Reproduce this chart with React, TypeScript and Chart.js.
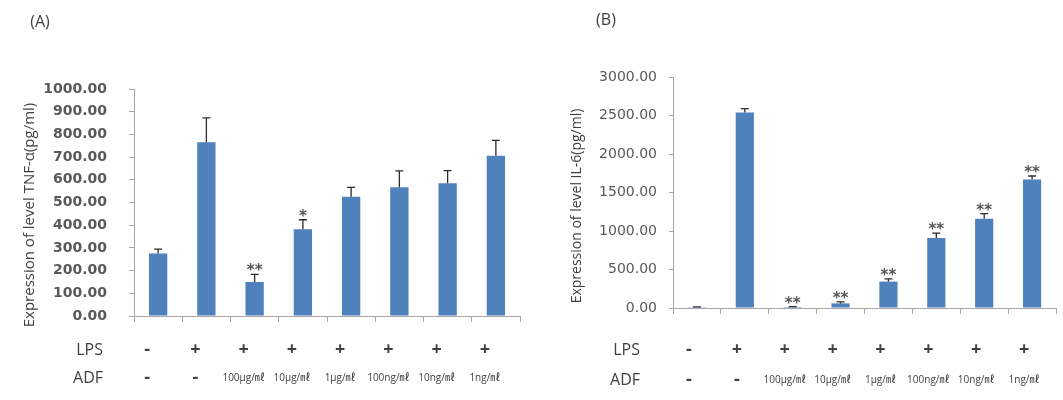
import React, { useEffect, useRef } from 'react';
import { Chart, registerables } from 'chart.js';

Chart.register(...registerables);

// Treatment groups (x categories) and the condition table printed beneath them
const groups = ['ctrl', 'LPS', 'ADF100ug', 'ADF10ug', 'ADF1ug', 'ADF100ng', 'ADF10ng', 'ADF1ng'];
const lpsRow = ['-', '+', '+', '+', '+', '+', '+', '+'];
const adfRow = ['-', '-', '100μg/㎖', '10μg/㎖', '1μg/㎖', '100ng/㎖', '10ng/㎖', '1ng/㎖'];

// (A) TNF-α, pg/ml
const tnfMean = [275, 765, 150, 382, 525, 567, 585, 706];
const tnfErr = [20, 108, 33, 42, 42, 72, 55, 68];
const tnfSig = ['', '', '**', '*', '', '', '', ''];
const tnfTicks = { min: 0, max: 1000, step: 100 };

// (B) IL-6, pg/ml
const il6Mean = [10, 2540, 12, 60, 343, 908, 1160, 1669];
const il6Err = [4, 50, 6, 20, 35, 65, 65, 45];
const il6Sig = ['', '', '**', '**', '**', '**', '**', '**'];
const il6Ticks = { min: 0, max: 3000, step: 500 };

const BAR = '#4F81BD';
const AXIS = '#a6a6a6';
const TEXT = '#404040';
const ERR = '#2b2b2b';
const SANS = '"Open Sans", "Noto Sans CJK KR", sans-serif';

type Panel = {
  tag: string;
  yTitle: string;
  mean: number[];
  err: number[];
  sig: string[];
  ticks: { min: number; max: number; step: number };
  width: number;
  area: { left: number; right: number; top: number; bottom: number };
  tickFont: { family: string; size: number; weight: string };
  tickPad: number;
  yTick: number;
  tagPos: [number, number];
  yTitlePos: [number, number];
  yTitleSize: number;
  headRight: number;
  rowY: [number, number];
  rowShift: number;
};

function overlay(p: Panel) {
  return {
    id: 'panelOverlay',
    afterDatasetsDraw(chart: any) {
      const { ctx } = chart;
      const xs = chart.scales.x;
      const ys = chart.scales.y;
      ctx.save();
      ctx.strokeStyle = ERR;
      ctx.lineWidth = 1.3;
      ctx.fillStyle = '#555555';
      ctx.font = `bold 15px "DejaVu Sans", sans-serif`;
      ctx.textAlign = 'center';
      ctx.textBaseline = 'alphabetic';
      p.mean.forEach((m, i) => {
        const cx = xs.getPixelForValue(i);
        const top = ys.getPixelForValue(m);
        const end = ys.getPixelForValue(m + p.err[i]);
        ctx.beginPath();
        ctx.moveTo(cx, top);
        ctx.lineTo(cx, end);
        ctx.moveTo(cx - 4, end);
        ctx.lineTo(cx + 4, end);
        ctx.stroke();
        if (p.sig[i]) ctx.fillText(p.sig[i], cx, end + 1);
      });
      ctx.restore();
    },
    afterDraw(chart: any) {
      const { ctx } = chart;
      const xs = chart.scales.x;
      ctx.save();
      ctx.fillStyle = TEXT;
      ctx.textBaseline = 'middle';

      ctx.font = `16px ${SANS}`;
      ctx.textAlign = 'center';
      ctx.fillText(p.tag, p.tagPos[0], p.tagPos[1]);

      ctx.save();
      ctx.translate(p.yTitlePos[0], p.yTitlePos[1]);
      ctx.rotate(-Math.PI / 2);
      ctx.font = `${p.yTitleSize}px ${SANS}`;
      ctx.fillText(p.yTitle, 0, 0);
      ctx.restore();

      ctx.font = `16px ${SANS}`;
      ctx.textAlign = 'right';
      ctx.fillText('LPS', p.headRight, p.rowY[0]);
      ctx.fillText('ADF', p.headRight, p.rowY[1]);

      ctx.textAlign = 'center';
      groups.forEach((_, i) => {
        const cx = xs.getPixelForValue(i) + p.rowShift;
        ctx.font = `bold 18px ${SANS}`;
        ctx.fillText(lpsRow[i], cx, p.rowY[0]);
        const dose = adfRow[i];
        ctx.font = dose.length > 1 ? `10px ${SANS}` : `bold 18px ${SANS}`;
        ctx.fillText(dose, cx, p.rowY[1]);
      });
      ctx.restore();
    },
  };
}

function BarPanel({ p }: { p: Panel }) {
  const ref = useRef<HTMLCanvasElement | null>(null);
  useEffect(() => {
    if (!ref.current) return;
    const chart = new Chart(ref.current, {
      type: 'bar',
      data: {
        labels: groups,
        datasets: [
          {
            data: p.mean,
            backgroundColor: BAR,
            borderWidth: 0,
            barPercentage: 0.38,
            categoryPercentage: 1,
          },
        ],
      },
      options: {
        responsive: false,
        animation: false,
        devicePixelRatio: 1,
        layout: {
          padding: { left: 0, top: p.area.top, right: p.width - p.area.right, bottom: 0 },
        },
        plugins: { legend: { display: false }, tooltip: { enabled: false } },
        scales: {
          x: {
            grid: { offset: true, drawOnChartArea: false, drawTicks: true, tickLength: 6, color: AXIS },
            border: { display: true, color: AXIS },
            ticks: { display: false },
            afterFit: (s: any) => {
              s.height = 400 - p.area.bottom;
            },
          },
          y: {
            min: p.ticks.min,
            max: p.ticks.max,
            grid: { drawOnChartArea: false, drawTicks: true, tickLength: p.yTick, color: AXIS },
            border: { display: true, color: AXIS },
            ticks: {
              stepSize: p.ticks.step,
              padding: p.tickPad,
              color: '#595959',
              font: p.tickFont as any,
              callback: (v: any) => Number(v).toFixed(2),
            },
            afterFit: (s: any) => {
              s.width = p.area.left;
            },
          },
        },
      },
      plugins: [overlay(p)],
    });
    return () => chart.destroy();
  }, [p]);
  return <canvas ref={ref} width={p.width} height={400} style={{ display: 'block' }} />;
}

const panelA: Panel = {
  tag: '(A)',
  yTitle: 'Expression of level TNF-α(pg/ml)',
  mean: tnfMean,
  err: tnfErr,
  sig: tnfSig,
  ticks: tnfTicks,
  width: 530,
  area: { left: 134, right: 520, top: 89, bottom: 316 },
  tickFont: { family: '"DejaVu Sans", sans-serif', size: 14, weight: 'bold' },
  tickPad: 22,
  yTick: 5,
  tagPos: [40, 22],
  yTitlePos: [30, 215],
  yTitleSize: 15,
  headRight: 103,
  rowY: [350, 378],
  rowShift: -11,
};

const panelB: Panel = {
  tag: '(B)',
  yTitle: 'Expression of level IL-6(pg/ml)',
  mean: il6Mean,
  err: il6Err,
  sig: il6Sig,
  ticks: il6Ticks,
  width: 533,
  area: { left: 143, right: 526, top: 77, bottom: 308 },
  tickFont: { family: '"DejaVu Sans", sans-serif', size: 14, weight: 'normal' },
  tickPad: 12,
  yTick: 4,
  tagPos: [76, 20],
  yTitlePos: [47, 206],
  yTitleSize: 14,
  headRight: 110,
  rowY: [350, 380],
  rowShift: -8,
};

export default function App() {
  return (
    <div
      style={{
        position: 'absolute',
        left: 0,
        top: 0,
        width: 1063,
        height: 400,
        background: '#ffffff',
        display: 'flex',
      }}
    >
      <BarPanel p={panelA} />
      <BarPanel p={panelB} />
    </div>
  );
}
